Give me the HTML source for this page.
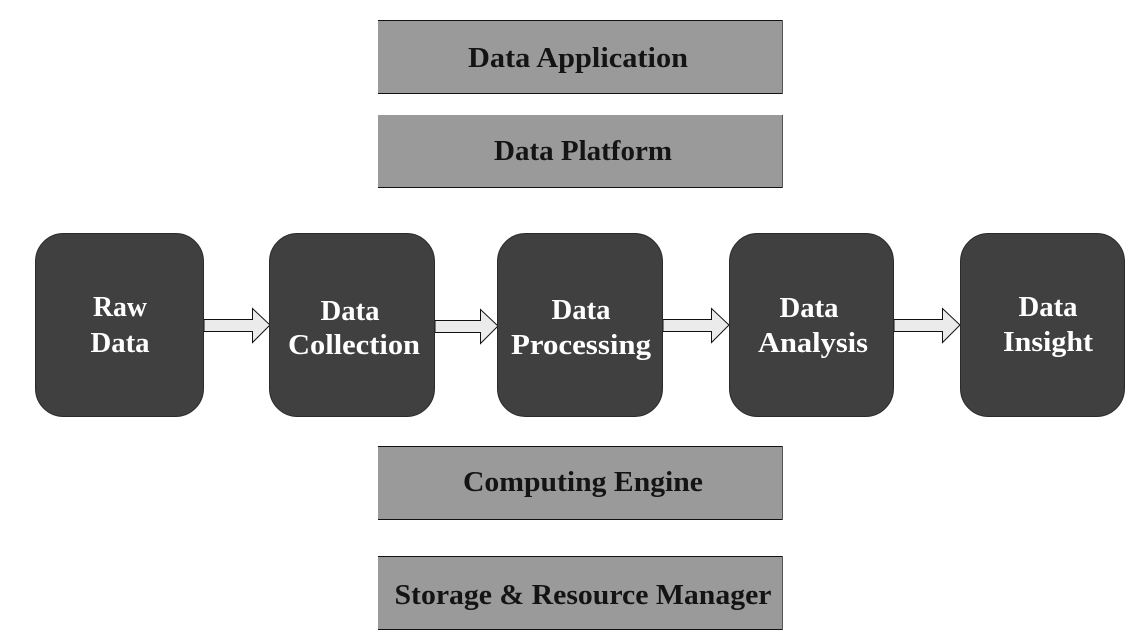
<!DOCTYPE html>
<html><head><meta charset="utf-8"><style>
html,body{margin:0;padding:0;background:#fff;width:1148px;height:642px;overflow:hidden}
text{font-family:"Liberation Serif",serif;font-weight:bold;font-size:28px;text-anchor:middle}
.d{fill:#141414}
.w{fill:#fff}
</style></head><body>
<svg width="1148" height="642" viewBox="0 0 1148 642" xmlns="http://www.w3.org/2000/svg">
<g fill="#9a9a9a">
<rect x="378" y="20" width="405" height="74"/>
<rect x="378" y="115" width="405" height="73"/>
<rect x="378" y="446" width="405" height="74"/>
<rect x="378" y="556" width="405" height="74"/>
</g>
<g stroke="#111" stroke-width="1" fill="none">
<path d="M378 20.5H783M378 93.5H783"/>
<path d="M378 187.5H783"/>
<path d="M378 446.5H783M378 519.5H783"/>
<path d="M378 556.5H783M378 629.5H783"/>
</g>
<g stroke="#555" stroke-width="1" fill="none">
<path d="M782.5 20V94M782.5 115V188M782.5 446V520M782.5 556V630"/>
</g>
<g fill="#ebebeb" stroke="#111" stroke-width="1">
<path d="M204 319.5H252.5V308.5L270 325L252.5 342.5V331.5H204Z"/>
<path d="M435 320.5H480.5V309.5L498 326L480.5 343.5V332.5H435Z"/>
<path d="M663 319.5H711.5V308.5L729 325L711.5 342.5V331.5H663Z"/>
<path d="M894 319.5H942.5V308.5L960 325L942.5 342.5V331.5H894Z"/>
</g>
<g fill="#404040" stroke="#2a2a2a" stroke-width="1">
<rect x="35.5" y="233.5" width="168" height="183" rx="28"/>
<rect x="269.5" y="233.5" width="165" height="183" rx="28"/>
<rect x="497.5" y="233.5" width="165" height="183" rx="28"/>
<rect x="729.5" y="233.5" width="164" height="183" rx="28"/>
<rect x="960.5" y="233.5" width="164" height="183" rx="28"/>
</g>
<text class="d" x="578" y="67" textLength="220" lengthAdjust="spacingAndGlyphs">Data Application</text>
<text class="d" x="583" y="160" textLength="178" lengthAdjust="spacingAndGlyphs">Data Platform</text>
<text class="d" x="583" y="491" textLength="240" lengthAdjust="spacingAndGlyphs">Computing Engine</text>
<text class="d" x="583" y="604" textLength="377" lengthAdjust="spacingAndGlyphs">Storage &amp; Resource Manager</text>
<text class="w" x="120" y="316" textLength="54" lengthAdjust="spacingAndGlyphs">Raw</text>
<text class="w" x="120" y="352" textLength="59" lengthAdjust="spacingAndGlyphs">Data</text>
<text class="w" x="350" y="320" textLength="59" lengthAdjust="spacingAndGlyphs">Data</text>
<text class="w" x="354" y="354" textLength="132" lengthAdjust="spacingAndGlyphs">Collection</text>
<text class="w" x="581" y="319" textLength="59" lengthAdjust="spacingAndGlyphs">Data</text>
<text class="w" x="581" y="354" textLength="140" lengthAdjust="spacingAndGlyphs">Processing</text>
<text class="w" x="809" y="317" textLength="59" lengthAdjust="spacingAndGlyphs">Data</text>
<text class="w" x="813" y="352" textLength="110" lengthAdjust="spacingAndGlyphs">Analysis</text>
<text class="w" x="1048" y="316" textLength="59" lengthAdjust="spacingAndGlyphs">Data</text>
<text class="w" x="1048" y="351" textLength="90" lengthAdjust="spacingAndGlyphs">Insight</text>
</svg>
</body></html>
